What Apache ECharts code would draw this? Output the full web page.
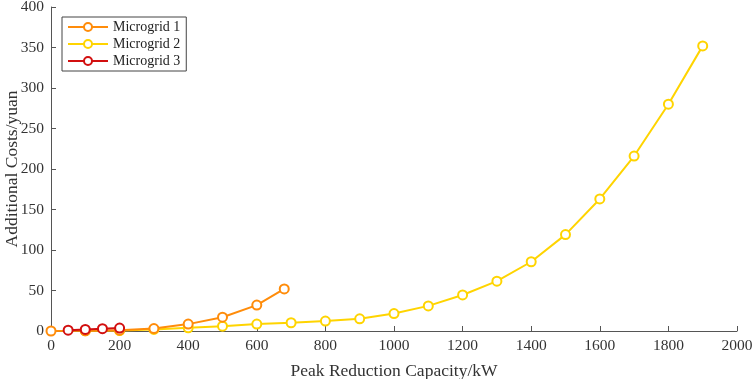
<!DOCTYPE html>
<html><head><meta charset="utf-8">
<script src="https://cdn.jsdelivr.net/npm/echarts@6/dist/echarts.min.js"></script>
<style>html,body{margin:0;padding:0;background:#fff}#c{width:754px;height:379px}</style>
</head><body><div id="c"></div>
<script>
const mg1X = [0, 100, 200, 300, 400, 500, 600, 680];
const mg1Y = [0, 0.3, 1, 3, 8.5, 17, 32, 52];
const mg2X = [100, 200, 300, 400, 500, 600, 700, 800, 900, 1000, 1100, 1200, 1300, 1400, 1500, 1600, 1700, 1800, 1900];
const mg2Y = [0.2, 0.5, 2, 4, 6, 8.5, 10.2, 12.3, 15, 21.5, 31, 44.5, 61.5, 85.5, 119, 163, 216, 280, 352];
const mg3X = [50, 100, 150, 200];
const mg3Y = [1, 2, 2.8, 3.6];
const names = ['Microgrid 1', 'Microgrid 2', 'Microgrid 3'];
const colors = ['#FF8C0A', '#FFD400', '#D20F0F'];
const xTicks = [0, 200, 400, 600, 800, 1000, 1200, 1400, 1600, 1800, 2000];
const yTicks = [0, 50, 100, 150, 200, 250, 300, 350, 400];

const pair = (xs, ys) => xs.map((x, i) => [x, ys[i]]);
const font = '"Liberation Serif", "Times New Roman", serif';
const axisCommon = {
  axisLine: {show: true, lineStyle: {color: '#555', width: 1}},
  axisTick: {show: true, inside: true, length: 5, lineStyle: {color: '#555'}},
  splitLine: {show: false},
  axisLabel: {color: '#333', fontFamily: font, fontSize: 15.5, margin: 7,
              formatter: v => String(v)},
  nameTextStyle: {color: '#333', fontFamily: font, fontSize: 17.5},
  nameMoveOverlap: false
};
const chart = echarts.init(document.getElementById('c'));
chart.setOption({
  animation: false,
  color: colors,
  grid: {left: 51, right: 17, top: 7, bottom: 48, outerBoundsMode: 'none', containLabel: false},
  legend: {
    orient: 'vertical', left: 62, top: 17,
    borderColor: '#444', borderWidth: 1, padding: [3, 6, 3, 5],
    itemWidth: 40, itemHeight: 10, itemGap: 3,
    textStyle: {fontFamily: font, fontSize: 14, color: '#222'},
    data: names
  },
  xAxis: Object.assign({}, axisCommon, {
    type: 'value', min: xTicks[0], max: xTicks[xTicks.length - 1], interval: 200,
    name: 'Peak Reduction Capacity/kW', nameLocation: 'middle', nameGap: 31
  }),
  yAxis: Object.assign({}, axisCommon, {
    type: 'value', min: yTicks[0], max: yTicks[yTicks.length - 1], interval: 50,
    name: 'Additional Costs/yuan', nameLocation: 'middle', nameGap: 30
  }),
  series: [
    {name: names[0], data: pair(mg1X, mg1Y)},
    {name: names[1], data: pair(mg2X, mg2Y)},
    {name: names[2], data: pair(mg3X, mg3Y)}
  ].map((s, i) => Object.assign(s, {
    type: 'line', symbol: 'emptyCircle', symbolSize: 9,
    lineStyle: {width: 2, color: colors[i]},
    itemStyle: {color: colors[i], borderWidth: 2},
    z: 2 + (i === 1 ? 0 : i === 0 ? 1 : 2)
  }))
});
</script></body></html>
